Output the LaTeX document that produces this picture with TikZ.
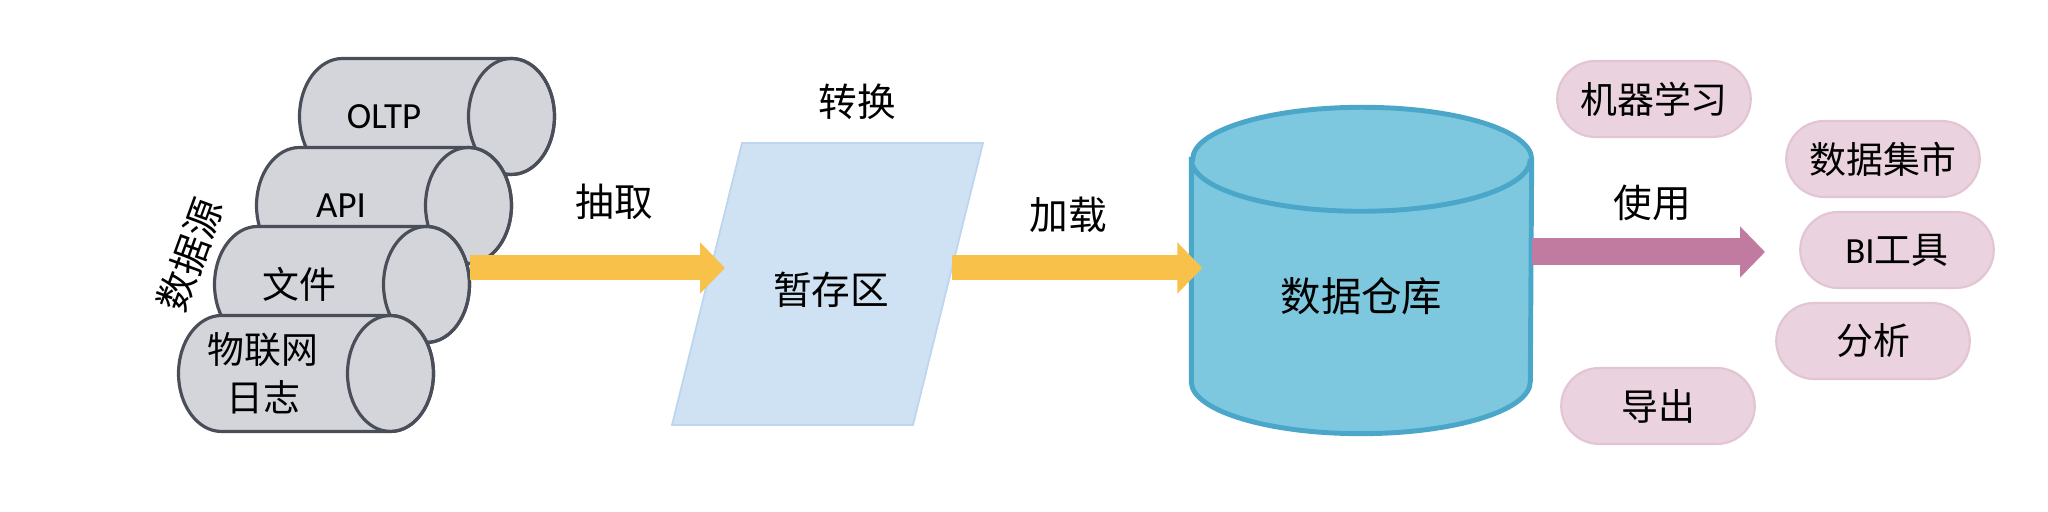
\documentclass[tikz,border=0pt]{standalone}
\usepackage{fontspec}
\setmainfont{Noto Sans CJK SC}
\newfontfamily\lat{Carlito}
\usetikzlibrary{shapes.misc,arrows.meta}
\pgfdeclarelayer{bg}
\pgfsetlayers{bg,main}
\definecolor{srcgray}{HTML}{D4D5DA}
\definecolor{srcline}{HTML}{4A4E58}
\definecolor{etlyellow}{HTML}{F8C14A}
\definecolor{stageblue}{HTML}{CFE2F3}
\definecolor{stageline}{HTML}{BDD5EE}
\definecolor{dwblue}{HTML}{7DC8DF}
\definecolor{dwline}{HTML}{4BA7CA}
\definecolor{usepink}{HTML}{C27BA0}
\definecolor{pillpink}{HTML}{EAD3DE}
\definecolor{pillline}{HTML}{E2C4D2}

\begin{document}
\begin{tikzpicture}[
    source/.style={inner sep=1pt, align=center, font=\fontsize{10.5}{13.5}\selectfont},
    srcshape/.style={fill=srcgray, draw=srcline, line width=0.9pt},
    warehouse/.style={inner sep=0pt, minimum width=3.39cm, minimum height=2.73cm, font=\fontsize{11.5}{14}\selectfont},
    usage/.style={rounded rectangle, fill=pillpink, draw=pillline, line width=0.6pt, minimum width=2.17cm, minimum height=0.76cm, font=\fontsize{10.5}{13}\selectfont},
    lbl/.style={font=\fontsize{11}{13}\selectfont},
    flow/.style={line width=0.25cm, -{Triangle[length=0.25cm, width=0.5cm]}}
]
    \useasboundingbox (0,0) rectangle (20.48,5.12);
    \begin{pgfonlayer}{bg}
    \fill[white] (0,0) rectangle (20.48,5.12);
    \end{pgfonlayer}

    % data sources
    \node[source] (oltp) at (3.84,3.955) {\lat OLTP};
    \node[source] (api) at (3.41,3.065) {\lat API};
    \node[source] (file) at (2.99,2.275) {文件};
    \node[source] (iot) at (2.63,1.385) {物联网\\日志};
    \node[lbl, rotate=70] (srclbl) at (1.90,2.57) {数据源};

    \begin{pgfonlayer}{bg}
    \foreach \s in {oltp,api,file,iot} {
        \filldraw[srcshape] ([shift={(-4.15mm,5.8mm)}]\s.center) -- ([shift={(12.75mm,5.8mm)}]\s.center)
            arc[start angle=90, end angle=-90, x radius=4.3mm, y radius=5.8mm]
            -- ([shift={(-4.15mm,-5.8mm)}]\s.center)
            arc[start angle=270, end angle=90, x radius=4.3mm, y radius=5.8mm] -- cycle;
        \draw[srcline, line width=0.9pt] ([xshift=12.75mm]\s.center) ellipse [x radius=4.3mm, y radius=5.8mm];
    }
    \end{pgfonlayer}

    % staging area
    \coordinate (sbl) at (6.72,0.87);
    \coordinate (sbr) at (9.13,0.87);
    \coordinate (str) at (9.83,3.69);
    \coordinate (stl) at (7.42,3.69);
    \filldraw[fill=stageblue, draw=stageline, line width=0.5pt] (sbl) -- (sbr) -- (str) -- (stl) -- cycle;
    \node[lbl] (stage) at (8.31,2.22) {暂存区};
    \node[lbl] (trans) at (8.57,4.10) {转换};
    \coordinate (stagein) at (7.25,2.44);
    \coordinate (stageout) at (9.52,2.44);

    % warehouse
    \node[warehouse] (dw) at (13.615,2.155) {数据仓库};
    \begin{pgfonlayer}{bg}
    \filldraw[fill=dwblue, draw=dwline, line width=1.4pt] (dw.north west) -- ([yshift=5.2mm]dw.south west)
        arc[start angle=180, end angle=360, x radius=16.95mm, y radius=5.2mm]
        -- (dw.north east)
        arc[start angle=0, end angle=180, x radius=16.95mm, y radius=5.2mm] -- cycle;
    \draw[dwline, line width=1.4pt] (dw.north west) arc[start angle=180, end angle=360, x radius=16.95mm, y radius=5.2mm];
    \end{pgfonlayer}

    \draw[flow, etlyellow] ([xshift=17.05mm]stagein -| file.center) -- (stagein);
    \node[lbl] (extract) at (6.14,3.10) {抽取};
    \draw[flow, etlyellow] (stageout) -- ([xshift=1.1mm]stageout -| dw.west);
    \node[lbl] (load) at (10.68,2.97) {加载};

    % usage
    \coordinate (usetip) at (17.65,2.60);
    \draw[flow, usepink, line width=0.27cm] (usetip -| dw.east) -- (usetip);
    \node[lbl] (use) at (16.52,3.09) {使用};

    \node[usage] (ml) at (16.54,4.13) {机器学习};
    \node[usage] (mart) at (18.83,3.53) {数据集市};
    \node[usage] (bi) at (18.97,2.62) {{\lat BI}工具};
    \node[usage] (ana) at (18.73,1.71) {分析};
    \node[usage] (exp) at (16.58,1.06) {导出};
\end{tikzpicture}
\end{document}
